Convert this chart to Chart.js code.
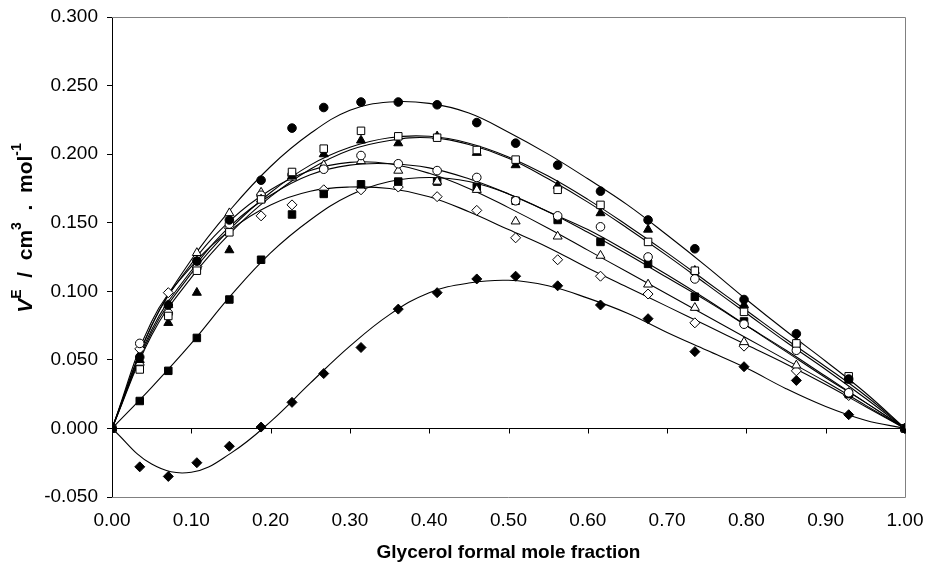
<!DOCTYPE html>
<html>
<head>
<meta charset="utf-8">
<script src="https://cdn.jsdelivr.net/npm/chart.js@4.4.1/dist/chart.umd.min.js"></script>
<style>
  html, body { margin: 0; padding: 0; background: #fff; }
  #wrap { width: 931px; height: 574px; }
</style>
</head>
<body>
<div id="wrap"><canvas id="chartVE" width="931" height="574"></canvas></div>
<script>
// mole fractions of the measured points (same for every series)
const xMeasured = [0, 0.035, 0.071, 0.107, 0.148, 0.188, 0.227, 0.267, 0.314, 0.361, 0.410,
  0.460, 0.509, 0.562, 0.616, 0.676, 0.735, 0.797, 0.863, 0.929, 1.0];

// measured V^E values, one array per marker
const vFilledCircle   = [0, 0.052, 0.090, 0.122, 0.152, 0.181, 0.219, 0.234, 0.238, 0.238, 0.236, 0.223, 0.208, 0.192, 0.173, 0.152, 0.131, 0.094, 0.069, 0.036, 0];
const vOpenSquare     = [0, 0.043, 0.082, 0.115, 0.143, 0.167, 0.187, 0.204, 0.217, 0.213, 0.212, 0.203, 0.196, 0.174, 0.163, 0.136, 0.115, 0.085, 0.062, 0.038, 0];
const vFilledTriangle = [0, 0.050, 0.077, 0.099, 0.130, 0.167, 0.184, 0.200, 0.210, 0.208, 0.213, 0.201, 0.192, 0.177, 0.157, 0.145, 0.115, 0.090, 0.063, 0.035, 0];
const vOpenCircle     = [0, 0.062, 0.084, 0.117, 0.149, 0.170, 0.185, 0.189, 0.199, 0.193, 0.188, 0.183, 0.166, 0.155, 0.147, 0.125, 0.109, 0.076, 0.057, 0.026, 0];
const vOpenTriangle   = [0, 0.048, 0.090, 0.128, 0.157, 0.172, 0.183, 0.192, 0.195, 0.188, 0.180, 0.174, 0.151, 0.140, 0.126, 0.105, 0.088, 0.063, 0.046, 0.026, 0];
const vFilledSquare   = [0, 0.020, 0.042, 0.066, 0.094, 0.123, 0.156, 0.171, 0.178, 0.180, 0.180, 0.176, 0.166, 0.152, 0.136, 0.120, 0.096, 0.078, 0.058, 0.025, 0];
const vOpenDiamond    = [0, 0.058, 0.099, 0.118, 0.146, 0.155, 0.163, 0.174, 0.174, 0.176, 0.169, 0.159, 0.139, 0.123, 0.111, 0.098, 0.077, 0.060, 0.042, 0.024, 0];
const vFilledDiamond  = [0, -0.028, -0.035, -0.025, -0.013, 0.001, 0.019, 0.040, 0.059, 0.087, 0.099, 0.109, 0.111, 0.104, 0.090, 0.080, 0.056, 0.045, 0.035, 0.010, 0];

// fitted curves, every 0.05
const xFit = [0, 0.05, 0.10, 0.15, 0.20, 0.25, 0.30, 0.35, 0.40, 0.45, 0.50,
  0.55, 0.60, 0.65, 0.70, 0.75, 0.80, 0.85, 0.90, 0.95, 1.0];
const fitFilledCircle   = [0, 0.075, 0.123, 0.160, 0.191, 0.215, 0.232, 0.238, 0.237, 0.230, 0.216, 0.200, 0.182, 0.163, 0.141, 0.118, 0.094, 0.071, 0.049, 0.026, 0];
const fitOpenSquare     = [0, 0.070, 0.113, 0.146, 0.172, 0.192, 0.205, 0.212, 0.213, 0.208, 0.198, 0.184, 0.167, 0.148, 0.128, 0.107, 0.086, 0.065, 0.045, 0.024, 0];
const fitFilledTriangle = [0, 0.068, 0.110, 0.143, 0.169, 0.189, 0.203, 0.210, 0.212, 0.207, 0.197, 0.182, 0.165, 0.146, 0.126, 0.105, 0.084, 0.063, 0.043, 0.022, 0];
const fitOpenCircle     = [0, 0.072, 0.115, 0.148, 0.170, 0.185, 0.192, 0.193, 0.190, 0.182, 0.171, 0.158, 0.145, 0.129, 0.112, 0.094, 0.075, 0.056, 0.037, 0.019, 0];
const fitOpenTriangle   = [0, 0.075, 0.120, 0.152, 0.174, 0.188, 0.194, 0.193, 0.186, 0.175, 0.161, 0.146, 0.130, 0.114, 0.098, 0.082, 0.066, 0.050, 0.034, 0.017, 0];
const fitOpenDiamond    = [0, 0.078, 0.118, 0.145, 0.163, 0.173, 0.176, 0.175, 0.169, 0.158, 0.145, 0.132, 0.117, 0.103, 0.089, 0.075, 0.061, 0.047, 0.032, 0.016, 0];
const fitFilledSquare   = [0, 0.030, 0.062, 0.097, 0.128, 0.152, 0.170, 0.180, 0.183, 0.180, 0.171, 0.158, 0.143, 0.127, 0.110, 0.093, 0.075, 0.057, 0.038, 0.019, 0];
const fitFilledDiamond  = [0, -0.026, -0.032, -0.018, 0.005, 0.033, 0.060, 0.083, 0.099, 0.106, 0.108, 0.104, 0.095, 0.084, 0.070, 0.057, 0.044, 0.029, 0.016, 0.006, 0];

const xTitle = 'Glycerol formal mole fraction';

const toXY = (xs, ys) => xs.map((x, i) => ({ x: x, y: ys[i] }));

function curve(ys) {
  return {
    data: toXY(xFit, ys),
    showLine: true,
    borderColor: '#000',
    borderWidth: 1.1,
    pointRadius: 0,
    tension: 0.4,
    order: 2
  };
}

function markers(ys, style, filled, r) {
  return {
    data: toXY(xMeasured, ys),
    showLine: false,
    pointStyle: style,
    pointRadius: r,
    pointBorderWidth: 1,
    pointBorderColor: '#000',
    pointBackgroundColor: filled ? '#000' : '#fff',
    order: 1
  };
}

// frame, zero axis with its ticks, and the y title with superscripts
const framePlugin = {
  id: 'frame',
  beforeDatasetsDraw(chart) {
    const { ctx, chartArea: a, scales: { x, y } } = chart;
    ctx.save();
    ctx.strokeStyle = '#808080';
    ctx.lineWidth = 1;
    ctx.beginPath();
    ctx.moveTo(a.left, a.top + 0.5);
    ctx.lineTo(a.right + 0.5, a.top + 0.5);
    ctx.lineTo(a.right + 0.5, a.bottom + 0.5);
    ctx.lineTo(a.left, a.bottom + 0.5);
    ctx.stroke();

    const y0 = Math.round(y.getPixelForValue(0)) + 0.5;
    ctx.strokeStyle = '#000';
    ctx.beginPath();
    ctx.moveTo(a.left, y0);
    ctx.lineTo(a.right, y0);
    for (let v = 0; v <= 10; v++) {
      const px = Math.round(x.getPixelForValue(v / 10)) + 0.5;
      ctx.moveTo(px, y0);
      ctx.lineTo(px, y0 + 5);
    }
    ctx.stroke();
    ctx.restore();
  },
  afterDraw(chart) {
    const { ctx } = chart;
    const big = 'bold 21px "Liberation Sans", Arial, sans-serif';
    const bigIt = 'italic bold 21px "Liberation Sans", Arial, sans-serif';
    const small = 'bold 14px "Liberation Sans", Arial, sans-serif';
    const parts = [
      { t: 'V', f: bigIt, dy: 0 },
      { t: 'E', f: small, dy: -9 },
      { t: '  /  cm', f: big, dy: 0 },
      { t: '3', f: small, dy: -9 },
      { t: '  .  mol', f: big, dy: 0 },
      { t: '-1', f: small, dy: -9 }
    ];
    ctx.save();
    let total = 0;
    parts.forEach(p => { ctx.font = p.f; p.w = ctx.measureText(p.t).width; total += p.w; });
    ctx.translate(26, 228);
    ctx.rotate(-Math.PI / 2);
    ctx.fillStyle = '#000';
    ctx.textBaseline = 'middle';
    let cx = -total / 2;
    parts.forEach(p => {
      ctx.font = p.f;
      ctx.fillText(p.t, cx, p.dy);
      cx += p.w;
    });
    ctx.restore();
  }
};

new Chart(document.getElementById('chartVE').getContext('2d'), {
  type: 'scatter',
  data: {
    datasets: [
      curve(fitFilledCircle),
      curve(fitOpenSquare),
      curve(fitFilledTriangle),
      curve(fitOpenCircle),
      curve(fitOpenTriangle),
      curve(fitOpenDiamond),
      curve(fitFilledSquare),
      curve(fitFilledDiamond),
      markers(vFilledCircle, 'circle', true, 4.3),
      markers(vOpenSquare, 'rect', false, 5.3),
      markers(vFilledTriangle, 'triangle', true, 5.2),
      markers(vOpenCircle, 'circle', false, 4.3),
      markers(vOpenTriangle, 'triangle', false, 5.2),
      markers(vFilledSquare, 'rect', true, 5.3),
      markers(vOpenDiamond, 'rectRot', false, 5),
      markers(vFilledDiamond, 'rectRot', true, 5)
    ]
  },
  options: {
    responsive: false,
    animation: false,
    layout: { padding: { top: 17, right: 26, left: 0, bottom: 0 } },
    plugins: {
      legend: { display: false },
      tooltip: { enabled: false }
    },
    scales: {
      x: {
        type: 'linear',
        min: 0,
        max: 1,
        grid: { display: false, drawTicks: false },
        border: { display: false },
        ticks: {
          stepSize: 0.1,
          padding: 12,
          color: '#000',
          font: { family: '"Liberation Sans", Arial, sans-serif', size: 19 },
          callback: v => v.toFixed(2)
        },
        title: {
          display: true,
          text: xTitle,
          color: '#000',
          font: { family: '"Liberation Sans", Arial, sans-serif', size: 19, weight: 'bold' },
          padding: { top: 0, bottom: 10 }
        },
        afterFit: s => { s.height = 77; s.paddingLeft = 0; s.paddingRight = 0; }
      },
      y: {
        min: -0.05,
        max: 0.3,
        grid: { drawOnChartArea: false, drawTicks: true, tickLength: 5, color: '#000' },
        border: { display: true, color: '#000', width: 1 },
        ticks: {
          stepSize: 0.05,
          padding: 9,
          color: '#000',
          font: { family: '"Liberation Sans", Arial, sans-serif', size: 19 },
          callback: v => (Math.abs(v) < 1e-9 ? 0 : v).toFixed(3)
        },
        afterFit: s => { s.width = 112; s.paddingTop = 0; s.paddingBottom = 0; }
      }
    }
  },
  plugins: [framePlugin]
});
</script>
</body>
</html>
